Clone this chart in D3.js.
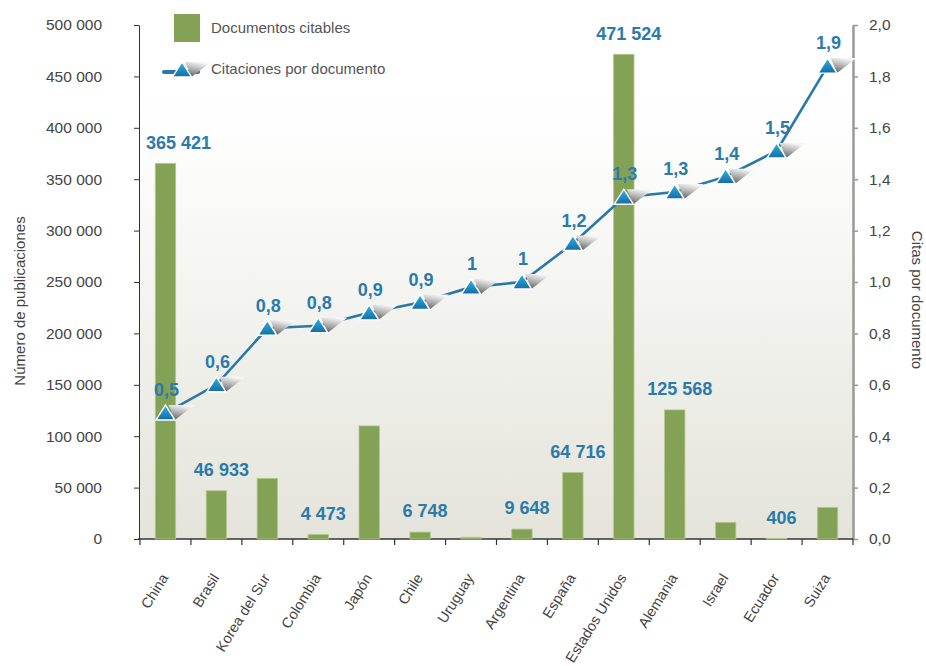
<!DOCTYPE html>
<html>
<head>
<meta charset="utf-8">
<script src="https://cdn.jsdelivr.net/npm/d3@7"></script>
<style>
  html, body { margin: 0; padding: 0; background: #ffffff; }
  svg { display: block; font-family: "Liberation Sans", Arial, sans-serif; }
</style>
</head>
<body>
<svg id="chart" width="926" height="666"></svg>
<script>
// ---------- data ----------
const countries = ["China", "Brasil", "Korea del Sur", "Colombia", "Japón", "Chile", "Uruguay",
  "Argentina", "España", "Estados Unidos", "Alemania", "Israel", "Ecuador", "Suiza"];
const documents = [365421, 46933, 59000, 4473, 110000, 6748, 1700, 9648, 64716, 471524, 125568, 16200, 406, 30800];
const documentLabelShown = [true, true, false, true, false, true, false, true, true, true, true, false, true, false];
const citations = [0.49, 0.60, 0.82, 0.83, 0.88, 0.92, 0.98, 1.00, 1.15, 1.33, 1.35, 1.41, 1.51, 1.84];
const citationLabels = ["0,5", "0,6", "0,8", "0,8", "0,9", "0,9", "1", "1", "1,2", "1,3", "1,3", "1,4", "1,5", "1,9"];
const leftTicks = [0, 50000, 100000, 150000, 200000, 250000, 300000, 350000, 400000, 450000, 500000];
const rightTicks = [0, 0.2, 0.4, 0.6, 0.8, 1.0, 1.2, 1.4, 1.6, 1.8, 2.0];
const legendLabels = ["Documentos citables", "Citaciones por documento"];
const axisTitles = ["Número de publicaciones", "Citas por documento"];

// ---------- setup ----------
const svg = d3.select("#chart");
const M = { left: 139, right: 853, top: 25, bottom: 539 };
const esLocale = d3.formatLocale({ decimal: ",", thousands: " ", grouping: [3], currency: ["", ""] });
const fmtInt = esLocale.format(",d");
const fmtDec = esLocale.format(".1f");

const xBand = d3.scaleBand().domain(countries).range([M.left + 1, M.right]).paddingInner(0.6).paddingOuter(0.3);
const xEdge = d3.scaleBand().domain(countries).range([M.left + 1, M.right]).padding(0);
const yL = d3.scaleLinear().domain([0, 500000]).range([M.bottom, M.top]);
const yR = d3.scaleLinear().domain([0, 2]).range([M.bottom, M.top]);
const cx = d => xBand(d) + xBand.bandwidth() / 2;

const defs = svg.append("defs");
const bg = defs.append("linearGradient").attr("id", "bgGrad").attr("x1", 0).attr("y1", 0).attr("x2", 0).attr("y2", 1);
bg.append("stop").attr("offset", 0).attr("stop-color", "#ffffff");
bg.append("stop").attr("offset", 0.2).attr("stop-color", "#fefefe");
bg.append("stop").attr("offset", 1).attr("stop-color", "#e4e4db");

const triG = defs.append("linearGradient").attr("id", "triGrad").attr("x1", 0).attr("y1", 0).attr("x2", 0).attr("y2", 1);
triG.append("stop").attr("offset", 0).attr("stop-color", "#2fb3e6");
triG.append("stop").attr("offset", 1).attr("stop-color", "#146ca3");

const shG = defs.append("linearGradient").attr("id", "shGrad").attr("x1", 0.15).attr("y1", 1).attr("x2", 0.5).attr("y2", 0);
shG.append("stop").attr("offset", 0).attr("stop-color", "#5e5e5e");
shG.append("stop").attr("offset", 0.55).attr("stop-color", "#b5b5b5");
shG.append("stop").attr("offset", 1).attr("stop-color", "#f6f6f6");

// background
svg.append("rect").attr("x", M.left).attr("y", M.top).attr("width", M.right - M.left).attr("height", M.bottom - M.top)
  .attr("fill", "url(#bgGrad)");

// ---------- axes ----------
const axL = svg.append("g").attr("transform", `translate(${M.left},0)`)
  .call(d3.axisLeft(yL).tickValues(leftTicks).tickFormat(fmtInt).tickSize(5).tickSizeOuter(0).tickPadding(32));
axL.select(".domain").attr("stroke", "#333");
axL.selectAll(".tick line").attr("stroke", "#333");
axL.selectAll("text").attr("fill", "#444").style("font-size", "15.5px").style("font-family", "Liberation Sans, Arial, sans-serif");

const axR = svg.append("g").attr("transform", `translate(${M.right},0)`)
  .call(d3.axisRight(yR).tickValues(rightTicks).tickFormat(fmtDec).tickSize(5).tickSizeOuter(0).tickPadding(11));
axR.select(".domain").attr("stroke", "#999").attr("stroke-width", 2.5);
axR.selectAll(".tick line").attr("stroke", "#999").attr("stroke-width", 1.5);
axR.selectAll("text").attr("fill", "#444").style("font-size", "15.5px").style("font-family", "Liberation Sans, Arial, sans-serif");

// bottom axis (ticks at category boundaries)
const gB = svg.append("g");
gB.append("line").attr("x1", M.left - 1).attr("x2", M.right).attr("y1", M.bottom).attr("y2", M.bottom)
  .attr("stroke", "#333").attr("stroke-width", 1.3);
const edges = countries.map(d => xEdge(d)).concat([M.right]);
gB.selectAll("line.tk").data(edges).join("line").attr("class", "tk")
  .attr("x1", d => d).attr("x2", d => d).attr("y1", M.bottom).attr("y2", M.bottom + 6)
  .attr("stroke", "#333").attr("stroke-width", 1.2);
gB.selectAll("text").data(countries).join("text")
  .attr("transform", d => `translate(${cx(d) - 1},${M.bottom + 36}) rotate(-58)`)
  .attr("text-anchor", "end").attr("dy", "0.35em")
  .attr("fill", "#444").style("font-size", "14.5px")
  .text(d => d);

// axis titles
svg.append("text").attr("transform", "translate(20,301) rotate(-90)")
  .attr("text-anchor", "middle").attr("dy", "0.35em").attr("fill", "#444").style("font-size", "15px")
  .text(axisTitles[0]);
svg.append("text").attr("transform", "translate(917,300) rotate(90)")
  .attr("text-anchor", "middle").attr("dy", "0.35em").attr("fill", "#444").style("font-size", "15px")
  .text(axisTitles[1]);

// ---------- bars ----------
const rows = countries.map((c, i) => ({ c, v: documents[i], show: documentLabelShown[i], r: citations[i], rl: citationLabels[i] }));
svg.append("g").selectAll("rect").data(rows).join("rect")
  .attr("x", d => xBand(d.c)).attr("width", xBand.bandwidth())
  .attr("y", d => yL(d.v)).attr("height", d => M.bottom - yL(d.v))
  .attr("fill", "#83a255").attr("stroke", "#b3c98c").attr("stroke-width", 0.8);

svg.append("g").selectAll("text").data(rows.filter(d => d.show)).join("text")
  .attr("y", d => yL(d.v) - 21).attr("dy", "0.35em")
  .attr("text-anchor", "middle").attr("fill", "#2a7aab")
  .style("font-size", "18px").style("font-weight", "bold")
  .text(d => fmtInt(d.v))
  .attr("x", function (d) {
    const w = this.getComputedTextLength();
    return Math.max(cx(d.c) + 5, M.left + 7 + w / 2);
  });

// ---------- line ----------
const lineGen = d3.line().x(d => cx(d.c)).y(d => yR(d.r));
svg.append("path").datum(rows).attr("d", lineGen)
  .attr("fill", "none").attr("stroke", "#2878a8").attr("stroke-width", 2.6);

function marker(g) {
  g.append("path").attr("d", "M3,-8 L29,-8 L9.5,7 Z").attr("fill", "url(#shGrad)");
  g.append("path").attr("d", "M0,-8 L9.5,7 L-9.5,7 Z").attr("fill", "url(#triGrad)")
    .attr("stroke", "#ffffff").attr("stroke-width", 1.4).attr("stroke-linejoin", "miter");
}
svg.append("g").selectAll("g").data(rows).join("g")
  .attr("transform", d => `translate(${cx(d.c)},${yR(d.r)})`)
  .each(function () { marker(d3.select(this)); });

svg.append("g").selectAll("text").data(rows).join("text")
  .attr("x", d => cx(d.c) + 1).attr("y", d => yR(d.r) - 23).attr("dy", "0.35em")
  .attr("text-anchor", "middle").attr("fill", "#2a7aab")
  .style("font-size", "18px").style("font-weight", "bold")
  .text(d => d.rl);

// ---------- legend ----------
const lg = svg.append("g");
lg.append("rect").attr("x", 174).attr("y", 14).attr("width", 26).attr("height", 28).attr("fill", "#83a255");
lg.append("text").attr("x", 211).attr("y", 28).attr("dy", "0.35em").attr("fill", "#555").style("font-size", "15px")
  .text(legendLabels[0]);
lg.append("line").attr("x1", 164).attr("x2", 198).attr("y1", 72).attr("y2", 72)
  .attr("stroke", "#2878a8").attr("stroke-width", 4).attr("stroke-linecap", "round");
const lm = lg.append("g").attr("transform", "translate(182,70)");
marker(lm);
lg.append("text").attr("x", 211).attr("y", 69).attr("dy", "0.35em").attr("fill", "#555").style("font-size", "15px")
  .text(legendLabels[1]);
</script>
</body>
</html>
